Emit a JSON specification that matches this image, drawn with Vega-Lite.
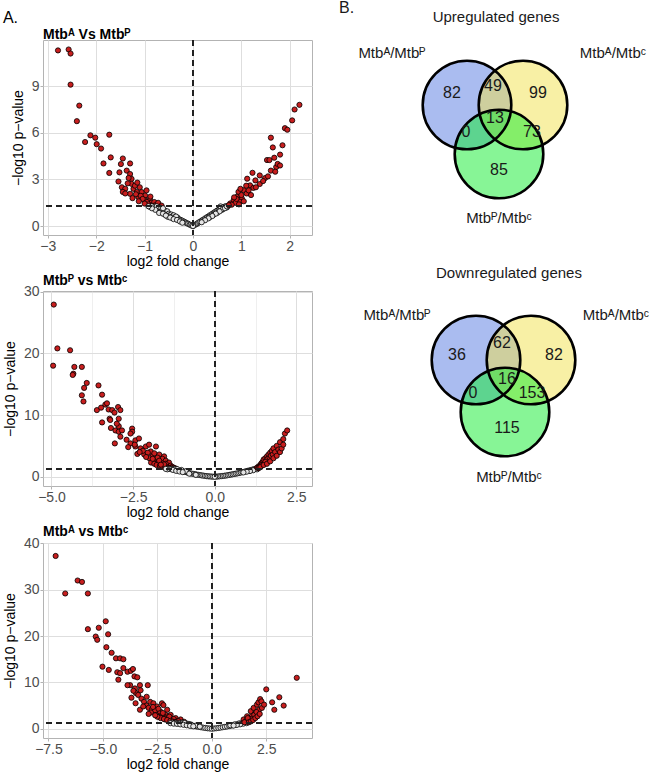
{
  "$schema": "https://vega.github.io/schema/vega-lite/v6.json",
  "padding": {"left": 2, "top": 0, "right": 0, "bottom": 0},
  "background": "white",
  "config": {
    "font": "Liberation Sans",
    "view": {"stroke": "#B3B3B3", "strokeWidth": 1},
    "axis": {"labelFontSize": 14, "labelColor": "#4D4D4D", "titleFontSize": 14, "titleFontWeight": "normal", "titleColor": "#000000", "gridColor": "#DEDEDE", "tickColor": "#B3B3B3", "domain": false, "tickSize": 3, "labelPadding": 1, "titlePadding": 1},
    "title": {"fontSize": 14, "fontWeight": "bold", "anchor": "start", "offset": -3, "color": "#000000", "frame": "group"}
  },
  "datasets": {
    "v1": [
      {"x":-2.79,"y":11.3},{"x":-2.57,"y":11.36},{"x":-2.53,"y":11.1},{"x":-2.53,"y":9.1},{"x":-2.35,"y":7.75},{"x":-2.4,"y":6.75},{"x":-2.12,"y":5.84},{"x":-2.23,"y":5.41},{"x":-2.02,"y":5.69},{"x":-1.99,"y":5.27},{"x":-1.9,"y":4.99},{"x":-1.73,"y":5.88},{"x":-1.7,"y":4.42},{"x":-1.85,"y":4.03},{"x":-1.73,"y":3.42},{"x":-1.45,"y":4.35},{"x":-1.49,"y":3.99},{"x":-1.52,"y":3.46},{"x":-1.3,"y":4.03},{"x":-1.37,"y":3.57},{"x":-1.54,"y":2.87},{"x":-1.47,"y":2.5},{"x":-1.4,"y":2.4},{"x":-1.3,"y":3.35},{"x":-1.27,"y":3.04},{"x":-1.27,"y":2.72},{"x":-1.23,"y":2.4},{"x":-1.3,"y":2.08},{"x":-1.16,"y":2.19},{"x":-1.1,"y":2.5},{"x":-1.06,"y":2.19},{"x":-1.13,"y":1.87},{"x":-0.99,"y":1.97},{"x":-0.99,"y":1.66},{"x":-0.89,"y":1.76},{"x":-0.86,"y":1.51},{"x":-0.75,"y":1.44},
      {"x":-1.35,"y":2.75},{"x":-1.33,"y":3.1},{"x":-1.2,"y":2.6},{"x":-1.18,"y":2.05},{"x":-1.08,"y":1.95},{"x":-1.04,"y":1.75},{"x":-0.95,"y":1.55},{"x":-0.92,"y":1.4},{"x":-0.82,"y":1.38},{"x":-0.8,"y":1.55},{"x":-0.78,"y":1.34},{"x":-0.7,"y":1.35},{"x":-1.45,"y":2.2},{"x":-1.12,"y":1.6},{"x":-1.0,"y":1.45},{"x":-0.88,"y":1.9},{"x":-0.72,"y":1.5},{"x":-1.25,"y":1.8},{"x":-1.4,"y":2.1},{"x":-0.96,"y":2.3},{"x":-1.15,"y":2.8},{"x":-0.65,"y":1.32},
      {"x":-0.8,"y":1.25},{"x":-0.77,"y":1.15},{"x":-0.74,"y":1.2},{"x":-0.72,"y":1.1},{"x":-0.7,"y":1.0},{"x":-0.68,"y":1.2},{"x":-0.66,"y":0.95},{"x":-0.63,"y":1.05},{"x":-0.6,"y":0.9},{"x":-0.58,"y":1.0},{"x":-0.55,"y":0.85},{"x":-0.53,"y":0.95},{"x":-0.5,"y":0.8},{"x":-0.48,"y":0.7},{"x":-0.45,"y":0.75},{"x":-0.42,"y":0.65},{"x":-0.4,"y":0.7},{"x":-0.37,"y":0.58},{"x":-0.35,"y":0.5},{"x":-0.32,"y":0.55},{"x":-0.3,"y":0.45},{"x":-0.27,"y":0.42},{"x":-0.25,"y":0.38},{"x":-0.22,"y":0.35},{"x":-0.2,"y":0.3},{"x":-0.17,"y":0.27},{"x":-0.15,"y":0.22},{"x":-0.12,"y":0.18},{"x":-0.1,"y":0.15},{"x":-0.07,"y":0.1},{"x":-0.05,"y":0.07},{"x":-0.02,"y":0.03},{"x":-0.9,"y":1.25},{"x":-0.85,"y":1.28},{"x":-0.75,"y":1.28},{"x":-0.62,"y":1.15},{"x":-0.52,"y":0.6},{"x":-0.44,"y":0.55},{"x":-0.35,"y":0.62},{"x":-0.58,"y":0.75},
      {"x":-0.78,"y":1.05},{"x":-0.7,"y":0.85},{"x":-0.62,"y":0.8},{"x":-0.56,"y":0.68},{"x":-0.47,"y":0.55},{"x":-0.4,"y":0.45},{"x":-0.33,"y":0.4},{"x":-0.27,"y":0.3},{"x":-0.22,"y":0.22},{"x":-0.85,"y":1.15},{"x":-0.92,"y":1.28},
      {"x":0.02,"y":0.04},{"x":0.05,"y":0.1},{"x":0.08,"y":0.14},{"x":0.1,"y":0.2},{"x":0.13,"y":0.25},{"x":0.15,"y":0.3},{"x":0.18,"y":0.33},{"x":0.2,"y":0.4},{"x":0.23,"y":0.42},{"x":0.25,"y":0.5},{"x":0.28,"y":0.52},{"x":0.3,"y":0.6},{"x":0.33,"y":0.62},{"x":0.35,"y":0.7},{"x":0.38,"y":0.72},{"x":0.4,"y":0.8},{"x":0.43,"y":0.85},{"x":0.45,"y":0.9},{"x":0.48,"y":0.95},{"x":0.5,"y":1.0},{"x":0.53,"y":1.05},{"x":0.55,"y":1.1},{"x":0.58,"y":1.15},{"x":0.6,"y":1.2},{"x":0.63,"y":1.22},{"x":0.65,"y":1.25},{"x":0.68,"y":1.28},{"x":0.7,"y":1.2},{"x":0.5,"y":0.85},{"x":0.42,"y":0.72},{"x":0.35,"y":0.58},{"x":0.6,"y":1.05},{"x":0.72,"y":1.28},{"x":0.0,"y":0.0},{"x":0.57,"y":1.27},
      {"x":0.62,"y":1.1},{"x":0.55,"y":0.95},{"x":0.47,"y":0.8},{"x":0.4,"y":0.65},{"x":0.32,"y":0.5},{"x":0.25,"y":0.38},{"x":0.18,"y":0.25},{"x":0.66,"y":1.15},{"x":0.7,"y":1.27},
      {"x":1.61,"y":5.69},{"x":1.65,"y":5.06},{"x":1.53,"y":4.25},{"x":1.58,"y":4.25},{"x":1.23,"y":3.43},{"x":1.38,"y":3.26},{"x":1.61,"y":3.57},{"x":1.49,"y":3.09},{"x":1.12,"y":3.05},{"x":1.29,"y":2.94},{"x":1.38,"y":2.71},{"x":1.18,"y":2.62},{"x":1.05,"y":2.31},{"x":0.94,"y":2.2},{"x":1.25,"y":2.46},{"x":1.11,"y":2.1},{"x":0.91,"y":1.89},{"x":1.01,"y":1.78},{"x":0.84,"y":1.67},{"x":0.77,"y":1.46},{"x":0.97,"y":1.57},{"x":0.88,"y":1.5},{"x":0.8,"y":1.38},{"x":0.74,"y":1.35},{"x":0.95,"y":1.4},{"x":1.0,"y":2.0},{"x":1.05,"y":1.6},{"x":0.9,"y":1.75},{"x":1.15,"y":2.3},{"x":0.85,"y":1.85},{"x":1.1,"y":2.6},{"x":0.98,"y":2.4},{"x":1.2,"y":2.0},{"x":1.3,"y":2.5},{"x":1.72,"y":3.8},{"x":1.75,"y":4.0},{"x":1.8,"y":4.6},{"x":1.85,"y":5.2},{"x":1.9,"y":6.3},{"x":1.95,"y":6.2},{"x":2.05,"y":6.8},{"x":2.1,"y":7.5},{"x":2.2,"y":7.8},{"x":1.7,"y":3.5},{"x":1.55,"y":3.2},{"x":1.45,"y":2.9},{"x":1.68,"y":4.4},{"x":1.8,"y":3.9}
    ],
    "v2": [
      {"x":-4.93,"y":27.9},{"x":-4.82,"y":20.8},{"x":-4.95,"y":18.0},{"x":-4.43,"y":20.5},{"x":-4.33,"y":16.7},{"x":-4.3,"y":17.8},{"x":-4.35,"y":16.5},{"x":-4.07,"y":17.8},{"x":-4.07,"y":13.2},{"x":-4.02,"y":12.2},{"x":-4.0,"y":14.4},{"x":-3.92,"y":15.2},{"x":-3.56,"y":14.8},{"x":-3.45,"y":13.3},{"x":-3.61,"y":10.8},{"x":-3.48,"y":11.2},{"x":-3.45,"y":8.8},{"x":-3.35,"y":11.7},{"x":-3.3,"y":11.9},{"x":-3.25,"y":10.9},{"x":-3.22,"y":9.4},{"x":-3.14,"y":10.8},{"x":-3.07,"y":10.4},{"x":-2.96,"y":11.3},{"x":-2.89,"y":10.8},{"x":-2.94,"y":9.4},{"x":-3.18,"y":7.9},{"x":-3.04,"y":7.5},{"x":-3.06,"y":5.4},{"x":-2.94,"y":7.3},{"x":-2.89,"y":6.5},{"x":-2.84,"y":7.5},{"x":-2.94,"y":8.2},{"x":-2.53,"y":7.8},{"x":-2.53,"y":7.3},{"x":-2.58,"y":7.0},{"x":-2.43,"y":5.9},{"x":-2.32,"y":6.2},{"x":-2.58,"y":5.4},{"x":-2.43,"y":4.9},{"x":-2.27,"y":4.6},{"x":-2.11,"y":4.9},{"x":-2.01,"y":5.2},{"x":-1.8,"y":4.9},{"x":-1.96,"y":4.1},{"x":-2.37,"y":3.7},{"x":-2.16,"y":3.6},{"x":-1.91,"y":3.3},{"x":-1.7,"y":3.6},{"x":-1.55,"y":3.3},{"x":-1.65,"y":2.5},{"x":-1.44,"y":2.0},{"x":-1.8,"y":2.8},
      {"x":-3.2,"y":9.2},{"x":-3.0,"y":8.6},{"x":-2.2,"y":4.2},{"x":-2.05,"y":3.9},{"x":-1.85,"y":3.8},{"x":-1.75,"y":3.1},{"x":-1.6,"y":2.9},{"x":-1.5,"y":2.6},{"x":-1.4,"y":2.3},{"x":-1.35,"y":1.8},{"x":-1.3,"y":1.6},{"x":-1.25,"y":1.45},{"x":-1.2,"y":1.35},{"x":-1.5,"y":2.1},{"x":-1.62,"y":2.2},{"x":-1.72,"y":2.4},{"x":-1.9,"y":2.6},{"x":-2.0,"y":3.0},{"x":-1.58,"y":1.9},{"x":-1.45,"y":1.5},{"x":-1.38,"y":1.4},{"x":-2.1,"y":3.2},{"x":-2.3,"y":4.0},{"x":-2.45,"y":5.2},{"x":-2.7,"y":6.0},{"x":-2.65,"y":4.8},
      {"x":-1.95,"y":2.3},{"x":-1.85,"y":2.1},{"x":-1.78,"y":1.9},{"x":-1.68,"y":1.75},{"x":-1.6,"y":1.6},{"x":-1.52,"y":1.5},{"x":-1.42,"y":1.4},{"x":-1.33,"y":1.33},{"x":-1.9,"y":2.9},{"x":-1.7,"y":2.6},{"x":-1.55,"y":2.0},{"x":-1.65,"y":1.95},
      {"x":-1.3,"y":1.28},{"x":-1.25,"y":1.2},{"x":-1.2,"y":1.15},{"x":-1.15,"y":1.05},{"x":-1.1,"y":1.0},{"x":-1.05,"y":0.95},{"x":-1.0,"y":0.9},{"x":-0.95,"y":0.82},{"x":-0.9,"y":0.78},{"x":-0.85,"y":0.7},{"x":-0.8,"y":0.62},{"x":-0.75,"y":0.55},{"x":-0.7,"y":0.5},{"x":-0.65,"y":0.45},{"x":-0.6,"y":0.4},{"x":-0.55,"y":0.35},{"x":-0.5,"y":0.3},{"x":-0.45,"y":0.26},{"x":-0.4,"y":0.22},{"x":-0.35,"y":0.18},{"x":-0.3,"y":0.14},{"x":-0.25,"y":0.1},{"x":-0.2,"y":0.07},{"x":-0.15,"y":0.05},{"x":-0.1,"y":0.03},{"x":-0.05,"y":0.01},{"x":-1.35,"y":1.25},{"x":-1.22,"y":1.28},{"x":-1.4,"y":1.29},{"x":-0.88,"y":0.9},{"x":-1.02,"y":1.1},{"x":-1.15,"y":1.25},
      {"x":-1.45,"y":1.2},{"x":-1.5,"y":1.27},{"x":-1.28,"y":1.1},{"x":-1.18,"y":0.95},{"x":-1.08,"y":0.85},{"x":-0.98,"y":0.75},{"x":-0.78,"y":0.5},{"x":-0.58,"y":0.3},
      {"x":0.05,"y":0.02},{"x":0.1,"y":0.04},{"x":0.15,"y":0.07},{"x":0.2,"y":0.1},{"x":0.25,"y":0.13},{"x":0.3,"y":0.17},{"x":0.35,"y":0.2},{"x":0.4,"y":0.25},{"x":0.45,"y":0.3},{"x":0.5,"y":0.35},{"x":0.55,"y":0.4},{"x":0.6,"y":0.45},{"x":0.65,"y":0.5},{"x":0.7,"y":0.55},{"x":0.75,"y":0.6},{"x":0.8,"y":0.68},{"x":0.85,"y":0.75},{"x":0.9,"y":0.8},{"x":0.95,"y":0.88},{"x":1.0,"y":0.95},{"x":1.05,"y":1.0},{"x":1.1,"y":1.08},{"x":1.15,"y":1.15},{"x":1.2,"y":1.22},{"x":1.25,"y":1.28},{"x":0.0,"y":0.0},
      {"x":1.28,"y":1.32},{"x":1.3,"y":1.2},{"x":1.18,"y":1.05},{"x":1.08,"y":0.92},{"x":0.98,"y":0.82},{"x":0.88,"y":0.7},
      {"x":1.3,"y":1.5},{"x":1.35,"y":1.7},{"x":1.4,"y":1.9},{"x":1.42,"y":2.1},{"x":1.45,"y":2.3},{"x":1.48,"y":2.5},{"x":1.5,"y":2.8},{"x":1.52,"y":2.2},{"x":1.55,"y":3.0},{"x":1.58,"y":2.6},{"x":1.6,"y":3.3},{"x":1.62,"y":2.9},{"x":1.65,"y":3.6},{"x":1.68,"y":3.1},{"x":1.7,"y":3.9},{"x":1.72,"y":3.4},{"x":1.75,"y":4.2},{"x":1.78,"y":3.6},{"x":1.8,"y":4.6},{"x":1.85,"y":4.0},{"x":1.9,"y":5.0},{"x":1.95,"y":4.4},{"x":2.0,"y":5.6},{"x":2.1,"y":6.1},{"x":2.15,"y":7.0},{"x":2.22,"y":7.5},{"x":1.38,"y":1.6},{"x":1.45,"y":1.9},{"x":1.55,"y":2.4},{"x":1.33,"y":1.4},
      {"x":1.36,"y":1.45},{"x":1.4,"y":1.55},{"x":1.5,"y":1.9},{"x":1.6,"y":2.1},{"x":1.7,"y":2.5},{"x":1.8,"y":3.0},{"x":1.9,"y":3.4},{"x":2.0,"y":4.0},{"x":2.05,"y":4.6},{"x":2.1,"y":5.2}
    ],
    "v3": [
      {"x":-7.17,"y":37.3},{"x":-6.73,"y":29.2},{"x":-6.16,"y":32.0},{"x":-5.96,"y":31.7},{"x":-5.69,"y":29.2},{"x":-5.69,"y":21.5},{"x":-5.19,"y":21.8},{"x":-5.33,"y":19.9},{"x":-5.26,"y":19.2},{"x":-4.87,"y":23.2},{"x":-4.76,"y":20.4},{"x":-5.02,"y":13.4},{"x":-4.84,"y":17.6},{"x":-4.6,"y":16.4},{"x":-4.4,"y":15.2},{"x":-4.21,"y":15.2},{"x":-4.06,"y":15.0},{"x":-4.73,"y":12.7},{"x":-4.34,"y":12.2},{"x":-4.29,"y":10.6},{"x":-4.21,"y":12.0},{"x":-4.06,"y":13.1},{"x":-3.87,"y":12.3},{"x":-3.72,"y":12.5},{"x":-3.62,"y":12.9},{"x":-3.75,"y":9.4},{"x":-3.87,"y":9.4},{"x":-3.55,"y":11.3},{"x":-3.42,"y":11.1},{"x":-3.69,"y":6.7},{"x":-3.53,"y":8.7},{"x":-3.48,"y":7.7},{"x":-3.3,"y":9.4},{"x":-3.27,"y":8.3},{"x":-3.38,"y":7.3},{"x":-3.23,"y":6.5},{"x":-3.11,"y":5.8},{"x":-2.94,"y":9.4},{"x":-3.3,"y":4.1},{"x":-2.99,"y":6.9},{"x":-2.83,"y":5.8},{"x":-2.68,"y":5.5},{"x":-2.52,"y":4.8},{"x":-2.29,"y":5.5},{"x":-2.22,"y":5.1},{"x":-2.13,"y":3.0},{"x":-2.36,"y":3.7},{"x":-2.05,"y":4.1},{"x":-1.89,"y":3.0},{"x":-1.66,"y":2.3},{"x":-1.43,"y":2.0},{"x":-1.27,"y":1.5},
      {"x":-3.0,"y":5.0},{"x":-2.9,"y":4.5},{"x":-2.75,"y":4.2},{"x":-2.6,"y":3.9},{"x":-2.45,"y":4.3},{"x":-2.4,"y":3.3},{"x":-2.3,"y":2.9},{"x":-2.2,"y":2.6},{"x":-2.1,"y":2.4},{"x":-2.0,"y":2.2},{"x":-1.9,"y":2.0},{"x":-1.8,"y":1.8},{"x":-1.7,"y":1.6},{"x":-1.6,"y":1.5},{"x":-1.5,"y":1.4},{"x":-1.95,"y":2.6},{"x":-2.25,"y":3.4},{"x":-2.55,"y":3.0},{"x":-2.8,"y":3.5},{"x":-2.7,"y":4.7},{"x":-3.15,"y":4.8},{"x":-1.75,"y":2.1},{"x":-1.55,"y":1.7},{"x":-1.35,"y":1.35},{"x":-2.4,"y":2.5},{"x":-2.15,"y":2.0},{"x":-3.5,"y":5.5},{"x":-3.6,"y":8.2},
      {"x":-2.35,"y":2.3},{"x":-2.2,"y":2.1},{"x":-2.05,"y":1.9},{"x":-1.9,"y":1.7},{"x":-1.8,"y":1.55},{"x":-1.7,"y":1.45},{"x":-1.6,"y":1.35},{"x":-2.5,"y":2.6},{"x":-2.6,"y":2.9},{"x":-2.9,"y":3.2},
      {"x":-1.4,"y":1.25},{"x":-1.3,"y":1.1},{"x":-1.2,"y":1.0},{"x":-1.1,"y":0.88},{"x":-1.0,"y":0.78},{"x":-0.9,"y":0.68},{"x":-0.8,"y":0.58},{"x":-0.7,"y":0.48},{"x":-0.6,"y":0.4},{"x":-0.5,"y":0.32},{"x":-0.4,"y":0.24},{"x":-0.3,"y":0.17},{"x":-0.2,"y":0.1},{"x":-0.1,"y":0.05},{"x":0.0,"y":0.0},{"x":-1.5,"y":1.2},{"x":-1.65,"y":1.28},{"x":-1.35,"y":1.2},{"x":-1.15,"y":1.12},{"x":-0.95,"y":0.9},{"x":-0.75,"y":0.65},{"x":-0.55,"y":0.45},{"x":-1.8,"y":1.29},{"x":-1.25,"y":1.25},{"x":-1.05,"y":1.05},
      {"x":-1.9,"y":1.2},{"x":-1.75,"y":1.1},{"x":-1.6,"y":1.05},{"x":-1.45,"y":0.95},{"x":-1.3,"y":0.85},{"x":-1.15,"y":0.75},{"x":-1.0,"y":0.62},{"x":-0.85,"y":0.52},
      {"x":0.1,"y":0.05},{"x":0.2,"y":0.1},{"x":0.3,"y":0.17},{"x":0.4,"y":0.24},{"x":0.5,"y":0.32},{"x":0.6,"y":0.4},{"x":0.7,"y":0.48},{"x":0.8,"y":0.58},{"x":0.9,"y":0.68},{"x":1.0,"y":0.78},{"x":1.1,"y":0.88},{"x":1.2,"y":1.0},{"x":1.3,"y":1.1},{"x":1.4,"y":1.22},{"x":1.5,"y":1.28},{"x":0.85,"y":0.75},{"x":1.05,"y":0.95},{"x":1.25,"y":1.15},
      {"x":1.6,"y":1.2},{"x":1.45,"y":1.1},{"x":1.3,"y":0.95},{"x":1.15,"y":0.82},{"x":1.0,"y":0.68},
      {"x":1.46,"y":2.0},{"x":1.7,"y":2.2},{"x":1.62,"y":2.7},{"x":1.84,"y":2.7},{"x":1.79,"y":3.8},{"x":2.0,"y":3.4},{"x":1.92,"y":4.5},{"x":2.17,"y":4.1},{"x":2.07,"y":5.2},{"x":2.14,"y":5.7},{"x":2.22,"y":6.4},{"x":2.28,"y":5.9},{"x":2.5,"y":8.5},{"x":2.77,"y":5.7},{"x":2.87,"y":4.1},{"x":1.55,"y":1.5},{"x":1.6,"y":1.8},{"x":1.75,"y":1.6},{"x":1.5,"y":1.4},{"x":1.85,"y":2.2},{"x":1.95,"y":3.0},{"x":2.05,"y":3.6},{"x":2.3,"y":4.5},{"x":1.65,"y":2.3},{"x":2.4,"y":5.2},{"x":3.1,"y":6.8},{"x":3.3,"y":5.0},{"x":3.9,"y":11.0},
      {"x":1.7,"y":1.4},{"x":1.8,"y":1.6},{"x":1.9,"y":1.9},{"x":2.0,"y":2.3},{"x":2.1,"y":2.7},{"x":2.2,"y":3.2}
    ],
    "circles": [
      {"set":"AP","cx":12.9,"cy":10.5},{"set":"AC","cx":18.5,"cy":10.5},{"set":"PC","cx":16.1,"cy":15.4},
      {"set":"AP","cx":13.8,"cy":36.0},{"set":"AC","cx":19.3,"cy":36.0},{"set":"PC","cx":16.7,"cy":41.2}
    ],
    "nums": [
      {"t":"82","x":11.4,"y":9.3},{"t":"49","x":15.5,"y":8.6},{"t":"99","x":20.0,"y":9.3},{"t":"13","x":15.7,"y":11.8},{"t":"0","x":12.8,"y":13.2},{"t":"73","x":19.4,"y":13.2},{"t":"85","x":16.1,"y":17.0},
      {"t":"36","x":11.9,"y":35.5},{"t":"62","x":16.4,"y":34.3},{"t":"82","x":21.6,"y":35.5},{"t":"16","x":16.9,"y":37.9},{"t":"0","x":13.5,"y":39.3},{"t":"153","x":19.4,"y":39.3},{"t":"115","x":16.9,"y":42.8}
    ],
    "labels": [
      {"t":"Mtbᴬ/Mtbᴾ","x":5.4,"y":5.3},{"t":"Mtbᴬ/Mtbᶜ","x":27.5,"y":5.3},{"t":"Mtbᴾ/Mtbᶜ","x":16.1,"y":21.8},
      {"t":"Mtbᴬ/Mtbᴾ","x":5.9,"y":31.5},{"t":"Mtbᴬ/Mtbᶜ","x":27.8,"y":31.5},{"t":"Mtbᴾ/Mtbᶜ","x":17.1,"y":47.7},
      {"t":"Upregulated genes","x":15.8,"y":1.7},{"t":"Downregulated genes","x":17.1,"y":27.3}
    ]
  },
  "spacing": 24,
  "hconcat": [
    {
      "title": {"text": "A.", "fontSize": 16, "fontWeight": "normal", "anchor": "start", "offset": 2, "frame": "bounds"},
      "spacing": 4,
      "vconcat": [
        {
          "width": 269, "height": 195,
          "title": {"text": "Mtbᴬ Vs Mtbᴾ"},
          "data": {"name": "v1"},
          "layer": [
            {"mark": {"type": "point", "shape": "circle", "filled": true, "size": 27, "stroke": "#000000", "strokeWidth": 0.8, "opacity": 1},
             "encoding": {
               "x": {"field": "x", "type": "quantitative", "scale": {"domain": [-3.1, 2.46], "nice": false, "zero": false},
                     "axis": {"title": "log2 fold change", "values": [-3,-2.5,-2,-1.5,-1,-0.5,0,0.5,1,1.5,2], "format": "d", "labelExpr": "datum.value % 1 === 0 ? datum.label : ''", "gridWidth": {"condition": {"test": "datum.value % 1 === 0", "value": 1}, "value": 0.5}, "tickOpacity": {"condition": {"test": "datum.value % 1 === 0", "value": 1}, "value": 0}}},
               "y": {"field": "y", "type": "quantitative", "scale": {"domain": [-0.57, 11.97], "nice": false, "zero": false},
                     "axis": {"title": "−log10 p−value", "values": [0,1.5,3,4.5,6,7.5,9,10.5], "format": "d", "labelExpr": "datum.value % 3 === 0 ? datum.label : ''", "gridWidth": {"condition": {"test": "datum.value % 3 === 0", "value": 1}, "value": 0.5}, "tickOpacity": {"condition": {"test": "datum.value % 3 === 0", "value": 1}, "value": 0}, "titlePadding": 6}},
               "fill": {"condition": {"test": "datum.y > 1.301", "value": "#C81E1E"}, "value": "#E4E4E4"}
             }},
            {"mark": {"type": "rule", "strokeDash": [6, 4], "color": "#222222", "strokeWidth": 1.3}, "encoding": {"y": {"datum": 1.3}}},
            {"mark": {"type": "rule", "strokeDash": [6, 4], "color": "#222222", "strokeWidth": 1.3}, "encoding": {"x": {"datum": 0}}}
          ]
        },
        {
          "width": 269, "height": 195,
          "title": {"text": "Mtbᴾ vs Mtbᶜ"},
          "data": {"name": "v2"},
          "layer": [
            {"mark": {"type": "point", "shape": "circle", "filled": true, "size": 27, "stroke": "#000000", "strokeWidth": 0.8, "opacity": 1},
             "encoding": {
               "x": {"field": "x", "type": "quantitative", "scale": {"domain": [-5.26, 2.98], "nice": false, "zero": false},
                     "axis": {"title": "log2 fold change", "values": [-5,-3.75,-2.5,-1.25,0,1.25,2.5], "format": ".1f", "labelExpr": "datum.value % 2.5 === 0 ? datum.label : ''", "gridWidth": {"condition": {"test": "datum.value % 2.5 === 0", "value": 1}, "value": 0.5}, "tickOpacity": {"condition": {"test": "datum.value % 2.5 === 0", "value": 1}, "value": 0}}},
               "y": {"field": "y", "type": "quantitative", "scale": {"domain": [-1.5, 30.1], "nice": false, "zero": false},
                     "axis": {"title": "−log10 p−value", "values": [0,5,10,15,20,25,30], "format": "d", "labelExpr": "datum.value % 10 === 0 ? datum.label : ''", "gridWidth": {"condition": {"test": "datum.value % 10 === 0", "value": 1}, "value": 0.5}, "tickOpacity": {"condition": {"test": "datum.value % 10 === 0", "value": 1}, "value": 0}, "titlePadding": 6}},
               "fill": {"condition": {"test": "datum.y > 1.301", "value": "#C81E1E"}, "value": "#E4E4E4"}
             }},
            {"mark": {"type": "rule", "strokeDash": [6, 4], "color": "#222222", "strokeWidth": 1.3}, "encoding": {"y": {"datum": 1.3}}},
            {"mark": {"type": "rule", "strokeDash": [6, 4], "color": "#222222", "strokeWidth": 1.3}, "encoding": {"x": {"datum": 0}}}
          ]
        },
        {
          "width": 269, "height": 195,
          "title": {"text": "Mtbᴬ vs Mtbᶜ"},
          "data": {"name": "v3"},
          "layer": [
            {"mark": {"type": "point", "shape": "circle", "filled": true, "size": 27, "stroke": "#000000", "strokeWidth": 0.8, "opacity": 1},
             "encoding": {
               "x": {"field": "x", "type": "quantitative", "scale": {"domain": [-7.75, 4.6], "nice": false, "zero": false},
                     "axis": {"title": "log2 fold change", "values": [-7.5,-6.25,-5,-3.75,-2.5,-1.25,0,1.25,2.5,3.75], "format": ".1f", "labelExpr": "datum.value % 2.5 === 0 ? datum.label : ''", "gridWidth": {"condition": {"test": "datum.value % 2.5 === 0", "value": 1}, "value": 0.5}, "tickOpacity": {"condition": {"test": "datum.value % 2.5 === 0", "value": 1}, "value": 0}}},
               "y": {"field": "y", "type": "quantitative", "scale": {"domain": [-2, 40.1], "nice": false, "zero": false},
                     "axis": {"title": "−log10 p−value", "values": [0,5,10,15,20,25,30,35,40], "format": "d", "labelExpr": "datum.value % 10 === 0 ? datum.label : ''", "gridWidth": {"condition": {"test": "datum.value % 10 === 0", "value": 1}, "value": 0.5}, "tickOpacity": {"condition": {"test": "datum.value % 10 === 0", "value": 1}, "value": 0}, "titlePadding": 6}},
               "fill": {"condition": {"test": "datum.y > 1.301", "value": "#C81E1E"}, "value": "#E4E4E4"}
             }},
            {"mark": {"type": "rule", "strokeDash": [6, 4], "color": "#222222", "strokeWidth": 1.3}, "encoding": {"y": {"datum": 1.3}}},
            {"mark": {"type": "rule", "strokeDash": [6, 4], "color": "#222222", "strokeWidth": 1.3}, "encoding": {"x": {"datum": 0}}}
          ]
        }
      ]
    },
    {
      "width": 310, "height": 450,
      "view": {"stroke": null},
      "layer": [
        {"data": {"name": "circles"},
         "mark": {"type": "point", "shape": "circle", "filled": true, "size": 7850, "fillOpacity": 0.5, "strokeWidth": 0},
         "encoding": {
           "x": {"field": "cx", "type": "quantitative", "scale": {"domain": [0, 31], "nice": false, "zero": false}, "axis": null},
           "y": {"field": "cy", "type": "quantitative", "scale": {"domain": [4, 49], "nice": false, "zero": false, "reverse": true}, "axis": null},
           "fill": {"field": "set", "type": "nominal", "scale": {"domain": ["AP", "AC", "PC"], "range": ["#5579E1", "#F1E14B", "#0FEB2D"]}, "legend": null}
         }},
        {"data": {"name": "circles"},
         "mark": {"type": "point", "shape": "circle", "filled": false, "size": 7850, "stroke": "#000000", "strokeWidth": 2.6, "opacity": 1},
         "encoding": {"x": {"field": "cx", "type": "quantitative"}, "y": {"field": "cy", "type": "quantitative"}}},
        {"data": {"name": "nums"},
         "mark": {"type": "text", "fontSize": 16, "color": "#1A1A1A", "baseline": "middle", "align": "center"},
         "encoding": {"x": {"field": "x", "type": "quantitative"}, "y": {"field": "y", "type": "quantitative"}, "text": {"field": "t"}}},
        {"data": {"name": "labels"},
         "mark": {"type": "text", "fontSize": 15, "color": "#1A1A1A", "baseline": "middle", "align": "center"},
         "encoding": {"x": {"field": "x", "type": "quantitative"}, "y": {"field": "y", "type": "quantitative"}, "text": {"field": "t"}}},
        {"data": {"values": [{"t": "B.", "x": 0.1, "y": 0.8}]},
         "mark": {"type": "text", "fontSize": 16, "color": "#1A1A1A", "baseline": "middle", "align": "left"},
         "encoding": {"x": {"field": "x", "type": "quantitative"}, "y": {"field": "y", "type": "quantitative"}, "text": {"field": "t"}}}
      ]
    }
  ]
}
